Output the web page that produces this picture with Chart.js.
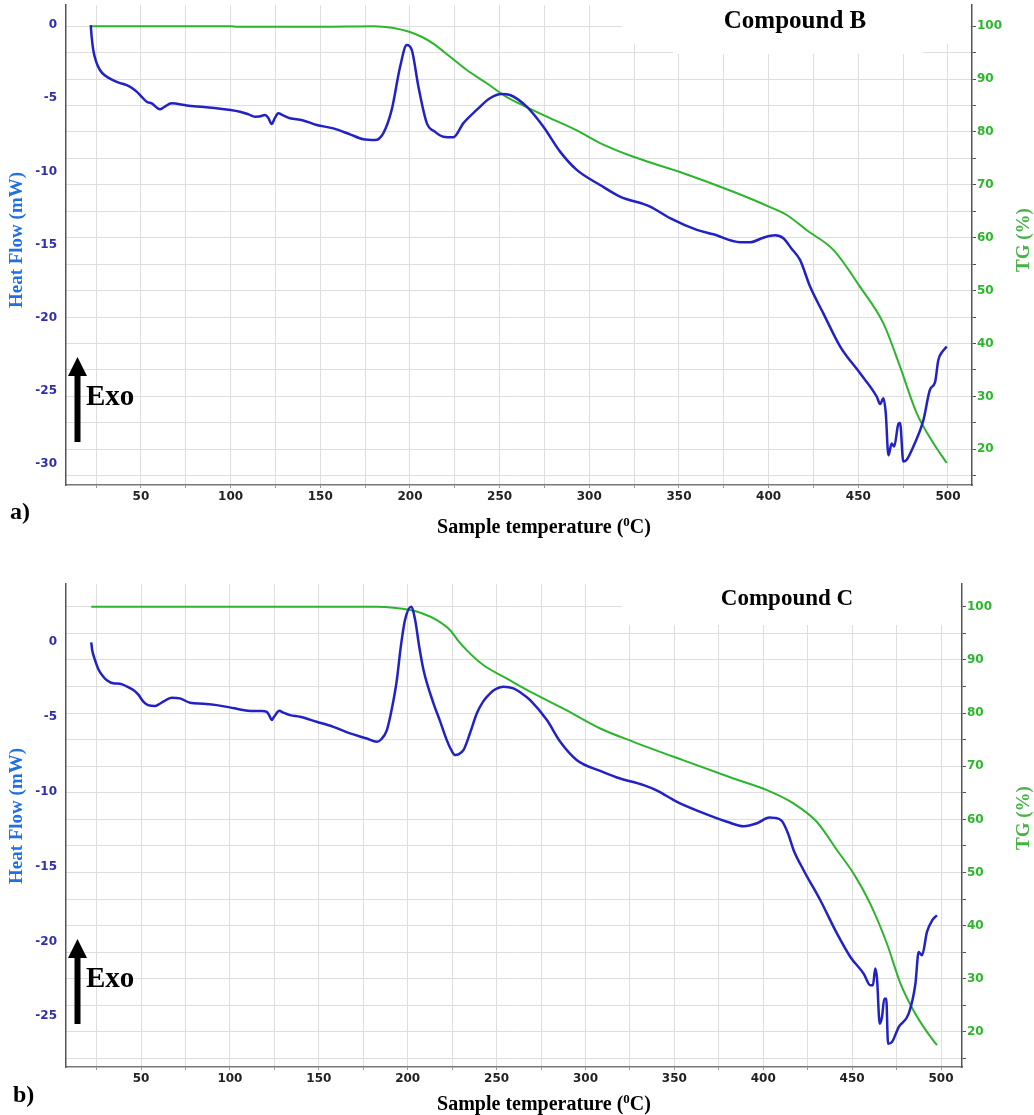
<!DOCTYPE html>
<html lang="en">
<head>
    <meta charset="UTF-8">
    <title>DSC / TG - Compounds B and C</title>
    <script src="https://cdn.jsdelivr.net/npm/chart.js"></script>
    <style>
        body {
            margin: 0;
            background: #fff;
        }
        .panel {
            position: absolute;
            left: 0;
        }
    </style>
</head>
<body>
    <div class="panel" style="top:0"><canvas id="chartB" width="1034" height="545"></canvas></div>
    <div class="panel" style="top:545px"><canvas id="chartC" width="1034" height="570"></canvas></div>

    <script>
        // Compound B - heat flow (mW) vs sample temperature (C)
        const dscTempB = [22, 22.5, 23.4, 25, 27.1, 30, 34.4, 38, 42, 45, 47.6, 50, 53.2, 56, 60.6, 63, 67.1, 75.5, 85, 92.2,
            100, 105.2, 110, 113.6, 116, 119.2, 121, 122.9, 124.5, 126.6, 129, 133.1, 140, 148, 157.3, 166.6, 174, 180.5, 185.1, 189.8,
            194.5, 198.2, 201, 204.7, 209.4, 214, 218.6, 224.2, 229.8, 237.2, 244.6, 251.2, 255.8, 265.1, 274.4, 283.7, 293, 306, 317.1, 333.9,
            345, 360, 369.2, 384.1, 389.7, 397, 403.6, 408.2, 412.9, 417.5, 423.1, 430.5, 439.9, 451, 460.3, 462.2, 464, 465.3, 466.8, 468.6,
            470, 472.4, 473.3, 475.1, 477, 480.7, 486.3, 490, 492.8, 494.6, 497, 499.3];
        const dscFlowB = [0, -0.8, -1.7, -2.5, -3.07, -3.45, -3.76, -3.95, -4.1, -4.3, -4.55, -4.85, -5.24, -5.35, -5.76, -5.6, -5.35, -5.49, -5.6, -5.69,
            -5.8, -5.92, -6.1, -6.26, -6.25, -6.15, -6.35, -6.76, -6.4, -6.03, -6.15, -6.37, -6.5, -6.83, -7.06, -7.47, -7.81, -7.86, -7.4, -5.8,
            -2.85, -1.37, -1.7, -4.2, -6.7, -7.3, -7.63, -7.67, -6.7, -5.8, -5.0, -4.71, -4.78, -5.58, -6.95, -8.65, -9.9, -10.93, -11.72, -12.4,
            -13.2, -14.0, -14.3, -14.84, -14.84, -14.53, -14.37, -14.57, -15.3, -16.05, -17.87, -19.7, -21.97, -23.8, -25.4, -25.9, -25.5, -26.5, -29.4, -28.6,
            -28.8, -27.25, -27.2, -29.83, -29.7, -28.8, -27, -24.9, -24.4, -22.9, -22.3, -21.97];
        // Compound B - TG (%)
        const tgTempB = [22, 100, 104, 150, 180, 190, 200, 207, 213, 222.4, 231.7, 242.8, 254, 265.1, 278.1, 293, 306, 324.6, 352.5, 380.3,
            400.8, 410.1, 421.3, 436.1, 451, 464, 473.3, 482.6, 492, 499.3];
        const tgMassB = [100, 100, 99.9, 99.9, 100, 99.7, 98.9, 97.9, 96.7, 94.2, 91.7, 89.2, 86.6, 84.7, 82.6, 80.3, 77.9, 75.3, 72.2, 68.7,
            65.8, 64.3, 61.4, 57.7, 50.7, 43.8, 35.6, 26.8, 21.1, 17.4];

        // Compound C - heat flow (mW)
        const dscTempC = [22, 22.5, 24.1, 26, 28.8, 31, 34.4, 38.2, 42, 45.7, 48.5, 51.3, 54, 57.9, 60, 62.5, 67.3, 71.9, 77.6, 85,
            92.6, 100, 105.7, 112, 118, 120.7, 122.2, 123.5, 125, 127.8, 130, 133.8, 139.5, 148.8, 158.2, 167.6, 177, 182.6, 185, 188.3,
            191, 193.9, 196, 198.5, 201.9, 204.2, 206.5, 208.9, 214.5, 218, 222, 224.5, 226.7, 228.5, 231.4, 235, 238.9, 242.5, 246.4, 250,
            253.9, 259.5, 264, 268.9, 278.3, 285.8, 295.2, 308.3, 317.7, 332.7, 340, 351.5, 364.6, 379.6, 389, 396.5, 403.5, 406.5, 410.5, 414,
            417.1, 422.7, 432.1, 441.5, 449, 456.5, 460.2, 461.7, 463, 464, 465.5, 466.8, 468.1, 469.2, 470.2, 472.4, 476.2, 481.8, 485.6, 487.4,
            489.3, 492.1, 495, 497.7];
        const dscFlowC = [0, -0.5, -1.18, -1.8, -2.3, -2.55, -2.74, -2.77, -2.95, -3.19, -3.5, -3.97, -4.2, -4.26, -4.15, -3.97, -3.7, -3.75, -4.04, -4.1,
            -4.2, -4.35, -4.49, -4.6, -4.6, -4.65, -4.9, -5.2, -4.95, -4.58, -4.7, -4.87, -4.98, -5.31, -5.65, -6.09, -6.43, -6.65, -6.5, -5.87,
            -4.5, -2.52, -0.4, 1.49, 2.38, 1.49, -0.3, -1.85, -4.08, -5.2, -6.54, -7.2, -7.54, -7.5, -7.2, -6.1, -4.75, -3.95, -3.41, -3.1,
            -2.97, -3.08, -3.4, -3.86, -5.2, -6.65, -7.88, -8.6, -9.04, -9.55, -9.9, -10.67, -11.34, -12.0, -12.3, -12.1, -11.72, -11.74, -11.95, -12.8,
            -13.9, -15.24, -17.25, -19.48, -21.04, -22.16, -22.94, -22.94, -21.82, -22.49, -25.5, -25.06, -23.83, -23.83, -26.84, -26.73, -25.73, -24.83, -22.83, -20.71,
            -20.93, -19.37, -18.6, -18.25];
        // Compound C - TG (%)
        const tgTempC = [22, 182.6, 192, 201.4, 208, 216.4, 223.9, 228, 233.3, 242.7, 255.8, 270.8, 289.5, 308.3, 327, 355.2, 383.3, 402.1, 417, 430.2,
            441.5, 450.8, 460.2, 469.6, 477.2, 484.6, 492.1, 497.7];
        const tgMassC = [100, 100, 99.85, 99.4, 98.8, 97.5, 95.6, 93.8, 91.8, 89, 86.5, 83.7, 80.5, 77.1, 74.6, 71.1, 67.7, 65.5, 63, 59.5,
            54.2, 49.8, 44.1, 36.6, 29.1, 24.0, 20.0, 17.5];

        const BLUE = '#2222c4';
        const GREEN = '#2cb52c';
        const SERIF = '"Liberation Serif", "Times New Roman", serif';
        const TICK_FONT = { family: '"DejaVu Sans", sans-serif', size: 12, weight: 'bold' };

        function toPoints(xs, ys) {
            return xs.map((x, i) => ({ x: x, y: ys[i] }));
        }

        // fixed axis sizes, no extra room for the edge labels
        function fixSize(key, value) {
            return s => {
                s[key] = value;
                s.paddingTop = s.paddingBottom = s.paddingLeft = s.paddingRight = 0;
            };
        }

        // text, arrow and the white patch behind the title
        const decor = {
            id: 'decor',
            beforeDatasetsDraw(chart, args, o) {
                const ctx = chart.ctx;
                ctx.save();
                ctx.fillStyle = '#fff';
                o.boxes.forEach(b => ctx.fillRect(b[0], b[1], b[2], b[3]));
                ctx.restore();
            },
            afterDraw(chart, args, o) {
                const ctx = chart.ctx;
                ctx.save();

                // compound title
                ctx.fillStyle = '#000';
                ctx.font = 'bold ' + o.titleSize + 'px ' + SERIF;
                ctx.textAlign = 'center';
                ctx.textBaseline = 'alphabetic';
                ctx.fillText(o.title, o.titleX, o.titleY);

                // vertical axis titles
                ctx.font = 'bold 19px ' + SERIF;
                ctx.textBaseline = 'middle';
                ctx.save();
                ctx.translate(17, o.leftTitleY);
                ctx.rotate(-Math.PI / 2);
                ctx.fillStyle = '#1f6fe5';
                ctx.fillText('Heat Flow (mW)', 0, 0);
                ctx.restore();
                ctx.save();
                ctx.translate(1024, o.rightTitleY);
                ctx.rotate(-Math.PI / 2);
                ctx.fillStyle = '#47b347';
                ctx.fillText('TG (%)', 0, 0);
                ctx.restore();

                // x title with superscript 0
                ctx.fillStyle = '#000';
                ctx.textBaseline = 'alphabetic';
                ctx.textAlign = 'left';
                const big = 'bold 20px ' + SERIF, small = 'bold 13px ' + SERIF;
                const p1 = 'Sample temperature (', p2 = '0', p3 = 'C)';
                ctx.font = big;
                const w1 = ctx.measureText(p1).width, w3 = ctx.measureText(p3).width;
                ctx.font = small;
                const w2 = ctx.measureText(p2).width;
                let x = 544 - (w1 + w2 + w3) / 2;
                ctx.font = big;
                ctx.fillText(p1, x, o.xTitleY);
                ctx.font = small;
                ctx.fillText(p2, x + w1, o.xTitleY - 7);
                ctx.font = big;
                ctx.fillText(p3, x + w1 + w2, o.xTitleY);

                // panel letter
                ctx.font = 'bold 24px ' + SERIF;
                ctx.fillText(o.letter, o.letterX, o.letterY);

                // Exo arrow
                const a = o.arrowTop;
                ctx.beginPath();
                ctx.moveTo(77.5, a);
                ctx.lineTo(87, a + 19);
                ctx.lineTo(68, a + 19);
                ctx.closePath();
                ctx.fill();
                ctx.fillRect(74.5, a + 18, 6, 67);
                ctx.font = 'bold 29px ' + SERIF;
                ctx.fillText('Exo', 86, a + 48);

                ctx.restore();
            }
        };

        function buildChart(id, p) {
            return new Chart(document.getElementById(id), {
                type: 'line',
                data: {
                    datasets: [{
                        label: 'Heat Flow',
                        data: toPoints(p.dscTemp, p.dscFlow),
                        yAxisID: 'y',
                        borderColor: BLUE,
                        borderWidth: 2.5,
                        pointRadius: 0,
                        cubicInterpolationMode: 'monotone'
                    }, {
                        label: 'TG',
                        data: toPoints(p.tgTemp, p.tgMass),
                        yAxisID: 'y1',
                        borderColor: GREEN,
                        borderWidth: 2,
                        pointRadius: 0,
                        cubicInterpolationMode: 'monotone'
                    }]
                },
                options: {
                    responsive: false,
                    animation: false,
                    layout: { padding: { top: p.padTop, left: 0, right: 0, bottom: 0 } },
                    plugins: {
                        legend: { display: false },
                        tooltip: { enabled: false },
                        decor: p.decor
                    },
                    scales: {
                        x: {
                            type: 'linear',
                            min: p.xMin,
                            max: p.xMax,
                            afterFit: fixSize('height', p.xHeight),
                            ticks: {
                                stepSize: 25,
                                autoSkip: false,
                                includeBounds: false,
                                maxRotation: 0,
                                padding: 2,
                                color: '#222',
                                font: TICK_FONT,
                                callback: v => (v % 50 === 0 ? v : '')
                            },
                            grid: { color: '#dedede', tickLength: 3, tickColor: '#999' },
                            border: { color: '#777', width: 1.5 }
                        },
                        y: {
                            position: 'left',
                            min: p.yMin,
                            max: p.yMax,
                            afterFit: fixSize('width', 66),
                            ticks: {
                                stepSize: 5,
                                includeBounds: false,
                                padding: 9,
                                color: '#2f2fae',
                                font: TICK_FONT
                            },
                            grid: { drawOnChartArea: false, drawTicks: false },
                            border: { color: '#555', width: 1.5 }
                        },
                        y1: {
                            position: 'right',
                            min: p.tgMin,
                            max: p.tgMax,
                            afterFit: fixSize('width', p.rightWidth),
                            ticks: {
                                stepSize: 5,
                                autoSkip: false,
                                includeBounds: false,
                                padding: 1,
                                color: '#2db52d',
                                font: TICK_FONT,
                                callback: v => (v % 10 === 0 ? v : '')
                            },
                            grid: { color: '#dedede', tickLength: 4, tickColor: '#555' },
                            border: { color: '#555', width: 1.5 }
                        }
                    }
                },
                plugins: [decor]
            });
        }

        buildChart('chartB', {
            dscTemp: dscTempB, dscFlow: dscFlowB, tgTemp: tgTempB, tgMass: tgMassB,
            padTop: 5, xHeight: 60, rightWidth: 62,
            xMin: 8.2, xMax: 513.4, yMin: -31.43, yMax: 1.37, tgMin: 13.25, tgMax: 104,
            decor: {
                title: 'Compound B', titleSize: 25, titleX: 795, titleY: 28,
                leftTitleY: 240, rightTitleY: 240, xTitleY: 533,
                letter: 'a)', letterX: 10, letterY: 519,
                arrowTop: 357,
                boxes: [[622, 0, 348, 44], [673, 0, 250, 54]]
            }
        });

        buildChart('chartC', {
            dscTemp: dscTempC, dscFlow: dscFlowC, tgTemp: tgTempC, tgMass: tgMassC,
            padTop: 39, xHeight: 48, rightWidth: 72,
            xMin: 7.8, xMax: 511.8, yMin: -28.4, yMax: 3.9, tgMin: 13.4, tgMax: 104.3,
            decor: {
                title: 'Compound C', titleSize: 23, titleX: 787, titleY: 60,
                leftTitleY: 271, rightTitleY: 273, xTitleY: 565,
                letter: 'b)', letterX: 13, letterY: 557,
                arrowTop: 394,
                boxes: [[622, 39, 338, 41]]
            }
        });
    </script>
</body>
</html>
